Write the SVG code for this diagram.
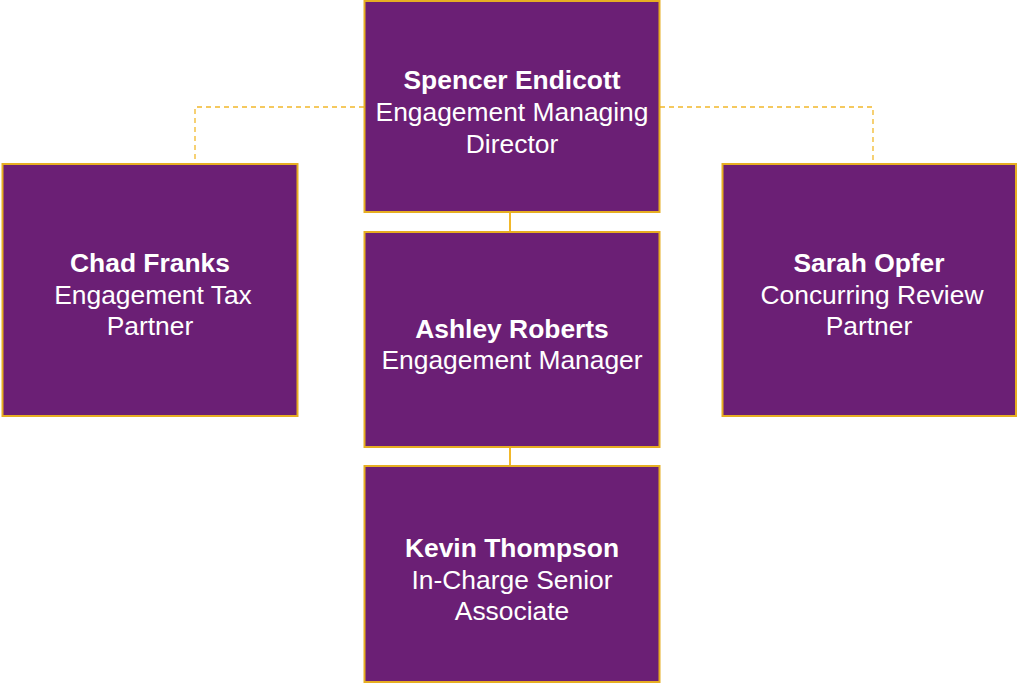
<svg xmlns="http://www.w3.org/2000/svg" width="1017" height="683" viewBox="0 0 1017 683">
<style>
.box{fill:#6B1F75;stroke:#E6AE22;stroke-width:2}
.t{font-family:"Liberation Sans",Arial,sans-serif;font-size:26.4px;fill:#fff;text-anchor:middle}
.b{font-weight:bold}
.dash{fill:none;stroke:#F2B82A;stroke-width:1.3;stroke-dasharray:5,4}
.solid{fill:none;stroke:#F2B82A;stroke-width:2}
</style>
<rect width="1017" height="683" fill="#fff"/>
<g id="connectors">
<polyline class="dash" points="364,107 195,107 195,164"/>
<polyline class="dash" points="660,107 873,107 873,164"/>
<line class="solid" x1="510" y1="212" x2="510" y2="232"/>
<line class="solid" x1="510" y1="447" x2="510" y2="466"/>
</g>
<g id="spencer">
<rect class="box" x="364.5" y="1" width="295" height="211"/>
<text class="t b" x="512" y="89">Spencer Endicott</text>
<text class="t" x="512" y="121">Engagement Managing</text>
<text class="t" x="512" y="153">Director</text>
</g>
<g id="chad">
<rect class="box" x="2.5" y="164" width="295" height="252"/>
<text class="t b" x="150" y="272">Chad Franks</text>
<text class="t" x="153" y="304">Engagement Tax</text>
<text class="t" x="150" y="335">Partner</text>
</g>
<g id="ashley">
<rect class="box" x="364.5" y="232" width="295" height="215"/>
<text class="t b" x="512" y="338">Ashley Roberts</text>
<text class="t" x="512" y="369">Engagement Manager</text>
</g>
<g id="sarah">
<rect class="box" x="722.5" y="164" width="293.5" height="252"/>
<text class="t b" x="869" y="272">Sarah Opfer</text>
<text class="t" x="872" y="304">Concurring Review</text>
<text class="t" x="869" y="335">Partner</text>
</g>
<g id="kevin">
<rect class="box" x="364.5" y="466" width="295" height="216"/>
<text class="t b" x="512" y="557">Kevin Thompson</text>
<text class="t" x="512" y="589">In-Charge Senior</text>
<text class="t" x="512" y="620">Associate</text>
</g>
</svg>
